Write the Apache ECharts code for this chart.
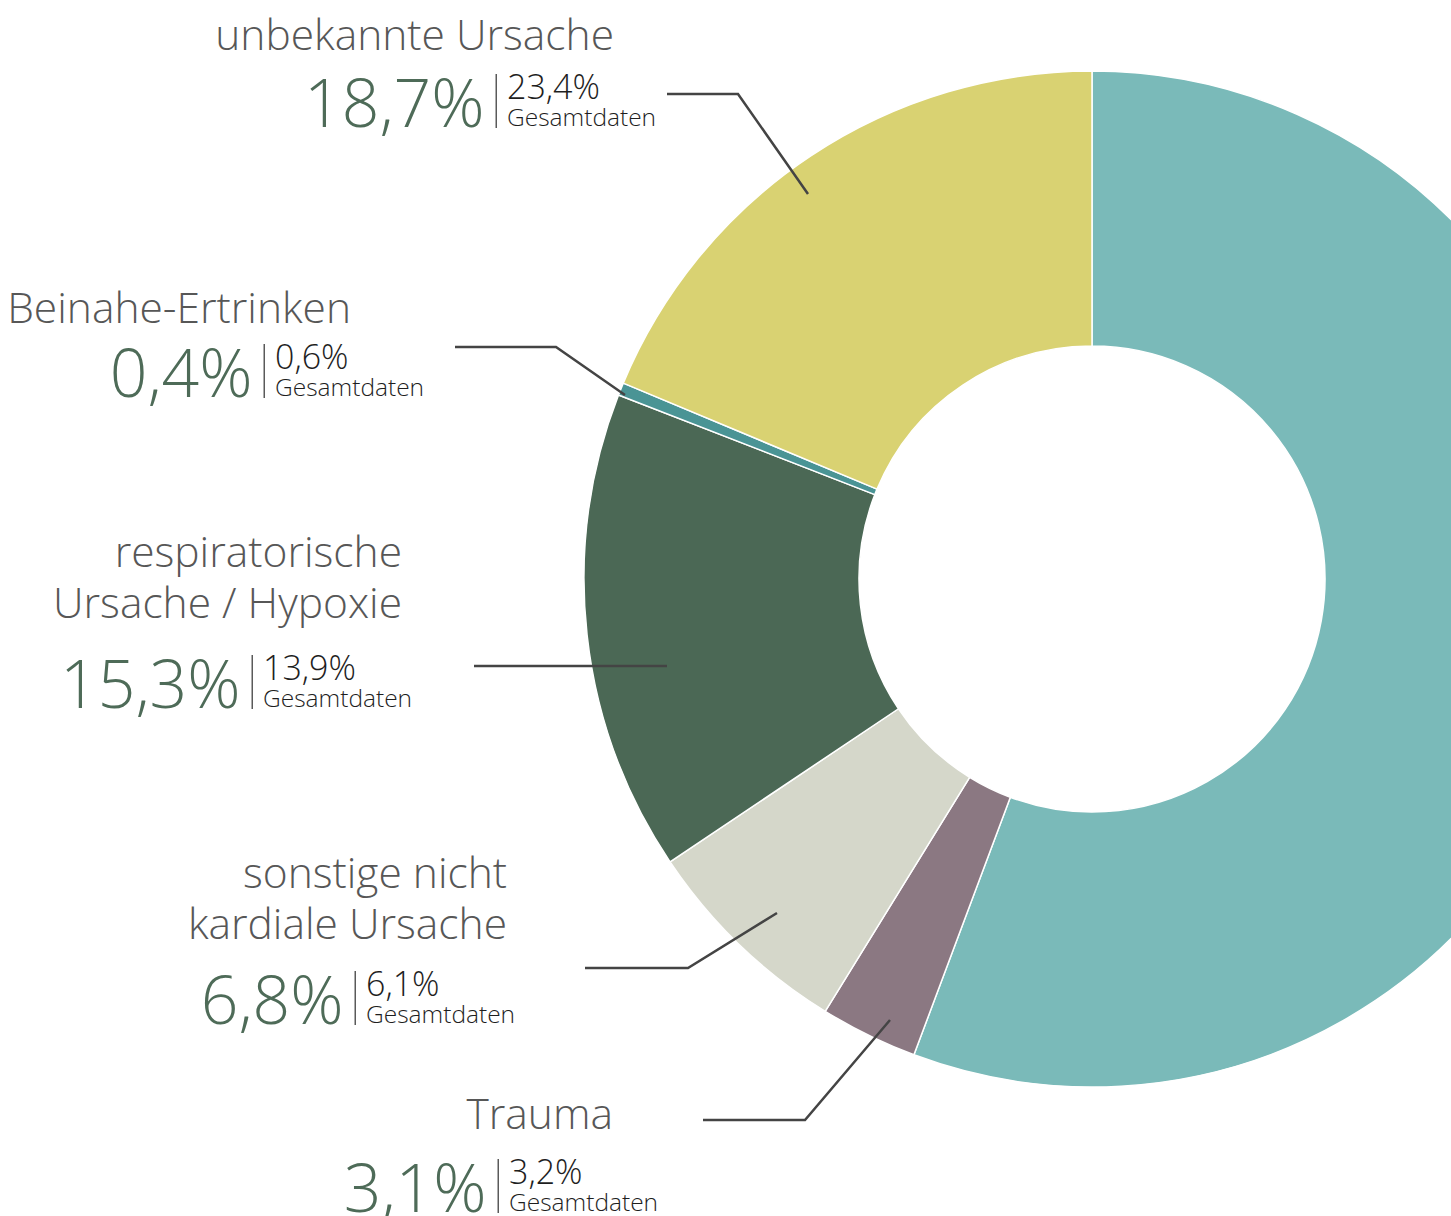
<!DOCTYPE html>
<html>
<head>
<meta charset="utf-8">
<script src="https://cdn.jsdelivr.net/npm/echarts@6/dist/echarts.min.js"></script>
<style>
html,body{margin:0;padding:0;background:#ffffff;}
#chart{width:1451px;height:1216px;}
</style>
</head>
<body>
<div id="chart"></div>
<script>
// ---- data ----
const categories = ['kardiale Ursache', 'Trauma', 'sonstige nicht\nkardiale Ursache', 'respiratorische\nUrsache / Hypoxie', 'Beinahe-Ertrinken', 'unbekannte Ursache'];
const shares = [55.7, 3.1, 6.8, 15.3, 0.4, 18.7];          // % in this cohort
const totalShares = [null, 3.2, 6.1, 13.9, 0.6, 23.4];     // % "Gesamtdaten"
const totalLabel = 'Gesamtdaten';
const showLabel = [false, true, true, true, true, true];

// ---- styles / layout ----
const sliceColors = ['#7abab9', '#8b7882', '#d5d7ca', '#4b6855', '#4a9495', '#d9d272'];
const FONT = "'Open Sans', 'Noto Sans', sans-serif";
const CENTER = [1092, 579];
const RADIUS = [233, 508];
// per label block: title anchor (right edge, middle), separator x, number row middle, leader line points
const blockLayout = [
  null,
  { title: [613, 1112], sep: 498, row: 1186, line: [[890, 1020], [805, 1120], [703, 1120]] },
  { title: [507, 897],  sep: 355, row: 998,  line: [[777, 913], [688, 968], [585, 968]] },
  { title: [402, 576],  sep: 252, row: 682,  line: [[667, 666], [667, 666], [474, 666]] },
  { title: [351, 306],  sep: 264, row: 371,  line: [[625, 395], [556, 347], [455, 347]] },
  { title: [614, 33],   sep: 496, row: 101,  line: [[808, 194], [738, 94], [667, 94]] }
];

function fmt(v) { return (v == null) ? '' : v.toFixed(1).replace('.', ',') + '%'; }

function baseData(withStyle, withLine) {
  return categories.map((n, i) => ({
    name: n,
    value: shares[i],
    itemStyle: withStyle ? { color: sliceColors[i] } : { color: 'rgba(0,0,0,0)', borderWidth: 0 },
    label: { show: showLabel[i] },
    labelLine: { show: !!withLine && showLabel[i] }
  }));
}

const common = {
  type: 'pie',
  center: CENTER,
  radius: RADIUS,
  startAngle: 90,
  clockwise: true,
  avoidLabelOverlap: false,
  animation: false,
  emphasis: { disabled: true }
};

const chart = echarts.init(document.getElementById('chart'), null, { renderer: 'svg' });
chart.setOption({
  backgroundColor: '#ffffff',
  series: [
    Object.assign({}, common, {
      name: 'Ursache',
      z: 2,
      itemStyle: { borderColor: '#ffffff', borderWidth: 1.5 },
      label: {
        show: true, position: 'outside',
        formatter: p => '{t|' + p.name + '}',
        rich: { t: { fontFamily: FONT, fontWeight: 300, fontSize: 42.5, lineHeight: 51, color: '#575757', align: 'right' } }
      },
      labelLine: { show: false },
      labelLayout: p => {
        const b = blockLayout[p.dataIndex];
        if (!b) return {};
        return { x: b.title[0], y: b.title[1], align: 'right', verticalAlign: 'middle' };
      },
      data: baseData(true, false)
    }),
    Object.assign({}, common, {
      name: 'Anteil',
      silent: true,
      z: 3,
      label: {
        show: true, position: 'outside',
        formatter: p => '{b|' + fmt(p.value) + '}{s| }',
        rich: {
          b: { fontFamily: FONT, fontWeight: 300, fontSize: 66, lineHeight: 58, color: '#4e6b58', padding: [0, 11, 0, 0] },
          s: { width: 1.5, height: 54, backgroundColor: '#5a5a5a' }
        }
      },
      labelLine: { show: true, lineStyle: { color: '#444444', width: 2.5 } },
      labelLayout: p => {
        const b = blockLayout[p.dataIndex];
        if (!b) return {};
        return { x: b.sep + 1, y: b.row, align: 'right', verticalAlign: 'middle', labelLinePoints: b.line };
      },
      data: baseData(false, true)
    }),
    Object.assign({}, common, {
      name: 'Gesamt',
      silent: true,
      z: 3,
      label: {
        show: true, position: 'outside',
        formatter: p => '{v|' + fmt(totalShares[p.dataIndex]) + '}\n{g|' + totalLabel + '}',
        rich: {
          v: { fontFamily: FONT, fontWeight: 300, fontSize: 34, lineHeight: 31, color: '#1e1e1e', align: 'left' },
          g: { fontFamily: FONT, fontWeight: 300, fontSize: 24.5, lineHeight: 31, color: '#1e1e1e', align: 'left' }
        }
      },
      labelLine: { show: false },
      labelLayout: p => {
        const b = blockLayout[p.dataIndex];
        if (!b) return {};
        return { x: b.sep + 11, y: b.row, align: 'left', verticalAlign: 'middle' };
      },
      data: baseData(false, false)
    })
  ]
});
</script>
</body>
</html>
